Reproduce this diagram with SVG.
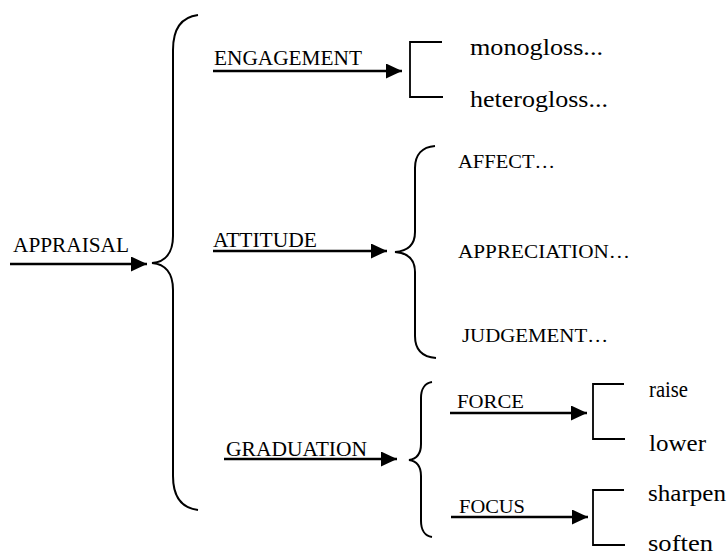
<svg xmlns="http://www.w3.org/2000/svg" width="728" height="556" viewBox="0 0 728 556">
<style>
text { fill: #000; font-family: "Liberation Serif", "Times New Roman", serif; }
.cap { font-size: 20px; }
.sub { font-size: 18px; }
.low { font-size: 23px; }
.brace { fill: none; stroke: #000; stroke-width: 2; }
.bracket { fill: none; stroke: #000; stroke-width: 1.8; }
.arrow { stroke: #000; stroke-width: 2.6; fill: none; marker-end: url(#head); }
</style>
<defs>
<marker id="head" markerUnits="userSpaceOnUse" markerWidth="17" markerHeight="16" refX="16" refY="7.5" orient="auto">
<path d="M0,0 L16,7.5 L0,15 z" fill="#000"/>
</marker>
</defs>
<rect width="728" height="556" fill="#fff"/>
<g id="connectors">
<line class="arrow" x1="10" y1="264" x2="147" y2="264"/>
<line class="arrow" x1="213" y1="71" x2="402" y2="71"/>
<line class="arrow" x1="213" y1="251" x2="387" y2="251"/>
<line class="arrow" x1="224" y1="459" x2="397" y2="459"/>
<line class="arrow" x1="450" y1="413" x2="587" y2="413"/>
<line class="arrow" x1="451" y1="517" x2="588" y2="517"/>
<path class="brace" d="M198,15 C182,17 173,28 173,50 L173,236 C173,253 165,262 152,263 C165,264 173,273 173,290 L173,476 C173,498 182,508 198,510"/>
<path class="brace" d="M435,146 C422,147 415,155 415,168 L415,232 C415,245 408,251 395,252 C408,253 415,259 415,272 L415,336 C415,349 422,357 436,358"/>
<path class="brace" d="M432,382 C425,383 421,389 421,398 L421,444 C421,454 416,459 409,460 C416,461 421,466 421,476 L421,521 C421,530 425,536 432,537"/>
<path class="bracket" d="M442,42 H410 V97 H443"/>
<path class="bracket" d="M624,384 H593 V439 H625"/>
<path class="bracket" d="M624,490 H593 V545 H625"/>
</g>
<g id="appraisal"><text class="cap" x="13" y="252" textLength="116" lengthAdjust="spacingAndGlyphs">APPRAISAL</text></g>
<g id="engagement"><text class="cap" x="214" y="65" textLength="148" lengthAdjust="spacingAndGlyphs">ENGAGEMENT</text></g>
<g id="attitude"><text class="cap" x="213" y="247" textLength="104" lengthAdjust="spacingAndGlyphs">ATTITUDE</text></g>
<g id="graduation"><text class="cap" x="226" y="456" textLength="141" lengthAdjust="spacingAndGlyphs">GRADUATION</text></g>
<g id="monogloss"><text class="low" x="470" y="55" textLength="133" lengthAdjust="spacingAndGlyphs">monogloss...</text></g>
<g id="heterogloss"><text class="low" x="470" y="107" textLength="138" lengthAdjust="spacingAndGlyphs">heterogloss...</text></g>
<g id="affect"><text class="sub" x="458" y="168" textLength="97" lengthAdjust="spacingAndGlyphs">AFFECT…</text></g>
<g id="appreciation"><text class="sub" x="458" y="258" textLength="172" lengthAdjust="spacingAndGlyphs">APPRECIATION…</text></g>
<g id="judgement"><text class="sub" x="462" y="342" textLength="146" lengthAdjust="spacingAndGlyphs">JUDGEMENT…</text></g>
<g id="force"><text class="sub" x="457" y="408" textLength="67" lengthAdjust="spacingAndGlyphs">FORCE</text></g>
<g id="focus"><text class="sub" x="459" y="513" textLength="66" lengthAdjust="spacingAndGlyphs">FOCUS</text></g>
<g id="raise"><text class="low" x="649" y="397" textLength="39" lengthAdjust="spacingAndGlyphs">raise</text></g>
<g id="lower"><text class="low" x="649" y="451" textLength="57" lengthAdjust="spacingAndGlyphs">lower</text></g>
<g id="sharpen"><text class="low" x="648" y="501" textLength="78" lengthAdjust="spacingAndGlyphs">sharpen</text></g>
<g id="soften"><text class="low" x="648" y="551" textLength="65" lengthAdjust="spacingAndGlyphs">soften</text></g>
</svg>
